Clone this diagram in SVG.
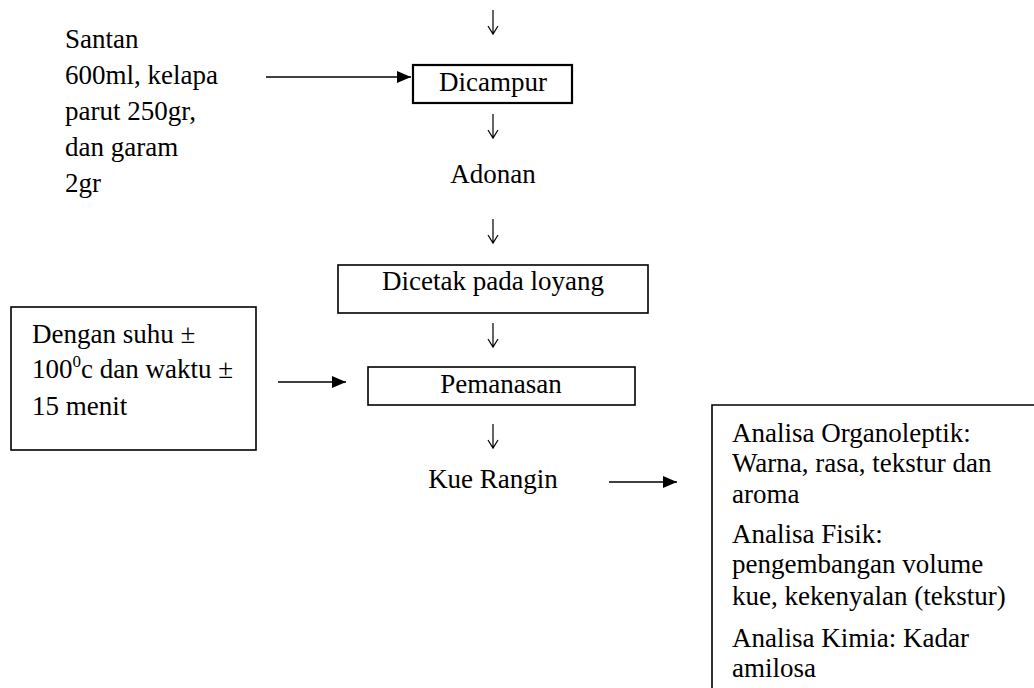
<svg xmlns="http://www.w3.org/2000/svg" width="1034" height="688" viewBox="0 0 1034 688">
<defs>
<style>
.t text{font-size:27px;fill:#000}
.c{text-anchor:middle}
.box{fill:#fff;stroke:#000;stroke-width:1.6}
.ln{stroke:#000;stroke-width:1.4;fill:none}
.dn{stroke:#000;stroke-width:1.2;fill:none}
</style>
<marker id="ah" markerWidth="14" markerHeight="12" refX="14" refY="6" orient="auto" markerUnits="userSpaceOnUse">
<path d="M0,0 L14,6 L0,12 Z" fill="#000"/>
</marker>
<path id="down" d="M0,0 V24 M-5,16 L0,24 L5,16"/>
</defs>
<rect width="1034" height="688" fill="#fff"/>
<g id="connectors">
<use href="#down" class="dn" x="493" y="10"/>
<line class="ln" x1="266" y1="77" x2="411" y2="77" marker-end="url(#ah)"/>
<use href="#down" class="dn" x="493" y="114"/>
<use href="#down" class="dn" x="493" y="219"/>
<use href="#down" class="dn" x="493" y="323"/>
<line class="ln" x1="278" y1="382" x2="346" y2="382" marker-end="url(#ah)"/>
<use href="#down" class="dn" x="493" y="424"/>
<line class="ln" x1="609" y1="482" x2="677" y2="482" marker-end="url(#ah)"/>
</g>
<g class="t" font-family="'Liberation Serif', 'Times New Roman', Times, serif">
<g id="bahan">
<text x="65" y="48">Santan</text>
<text x="65" y="84">600ml, kelapa</text>
<text x="65" y="120">parut 250gr,</text>
<text x="65" y="156">dan garam</text>
<text x="65" y="192">2gr</text>
</g>
<g id="dicampur">
<rect class="box" x="413" y="65" width="159" height="38" style="stroke-width:2.2"/>
<text class="c" x="493" y="91">Dicampur</text>
</g>
<g id="adonan">
<text class="c" x="493" y="183">Adonan</text>
</g>
<g id="dicetak">
<rect class="box" x="338" y="265" width="310" height="48"/>
<text class="c" x="493" y="290">Dicetak pada loyang</text>
</g>
<g id="kondisi">
<rect class="box" x="11" y="307" width="245" height="143"/>
<text x="32" y="343">Dengan suhu ±</text>
<text x="32" y="378">100<tspan font-size="17" dy="-11">0</tspan><tspan dy="11">c dan waktu ±</tspan></text>
<text x="32" y="415">15 menit</text>
</g>
<g id="pemanasan">
<rect class="box" x="368" y="367" width="267" height="38"/>
<text class="c" x="501" y="393">Pemanasan</text>
</g>
<g id="kue-rangin">
<text class="c" x="493" y="488">Kue Rangin</text>
</g>
<g id="analisa">
<path class="box" d="M1040,405 H712 V692" style="fill:none"/>
<text x="732" y="442">Analisa Organoleptik:</text>
<text x="732" y="472">Warna, rasa, tekstur dan</text>
<text x="732" y="503">aroma</text>
<text x="732" y="543">Analisa Fisik:</text>
<text x="732" y="573">pengembangan volume</text>
<text x="732" y="605">kue, kekenyalan (tekstur)</text>
<text x="732" y="647">Analisa Kimia: Kadar</text>
<text x="732" y="677">amilosa</text>
</g>
</g>
</svg>
